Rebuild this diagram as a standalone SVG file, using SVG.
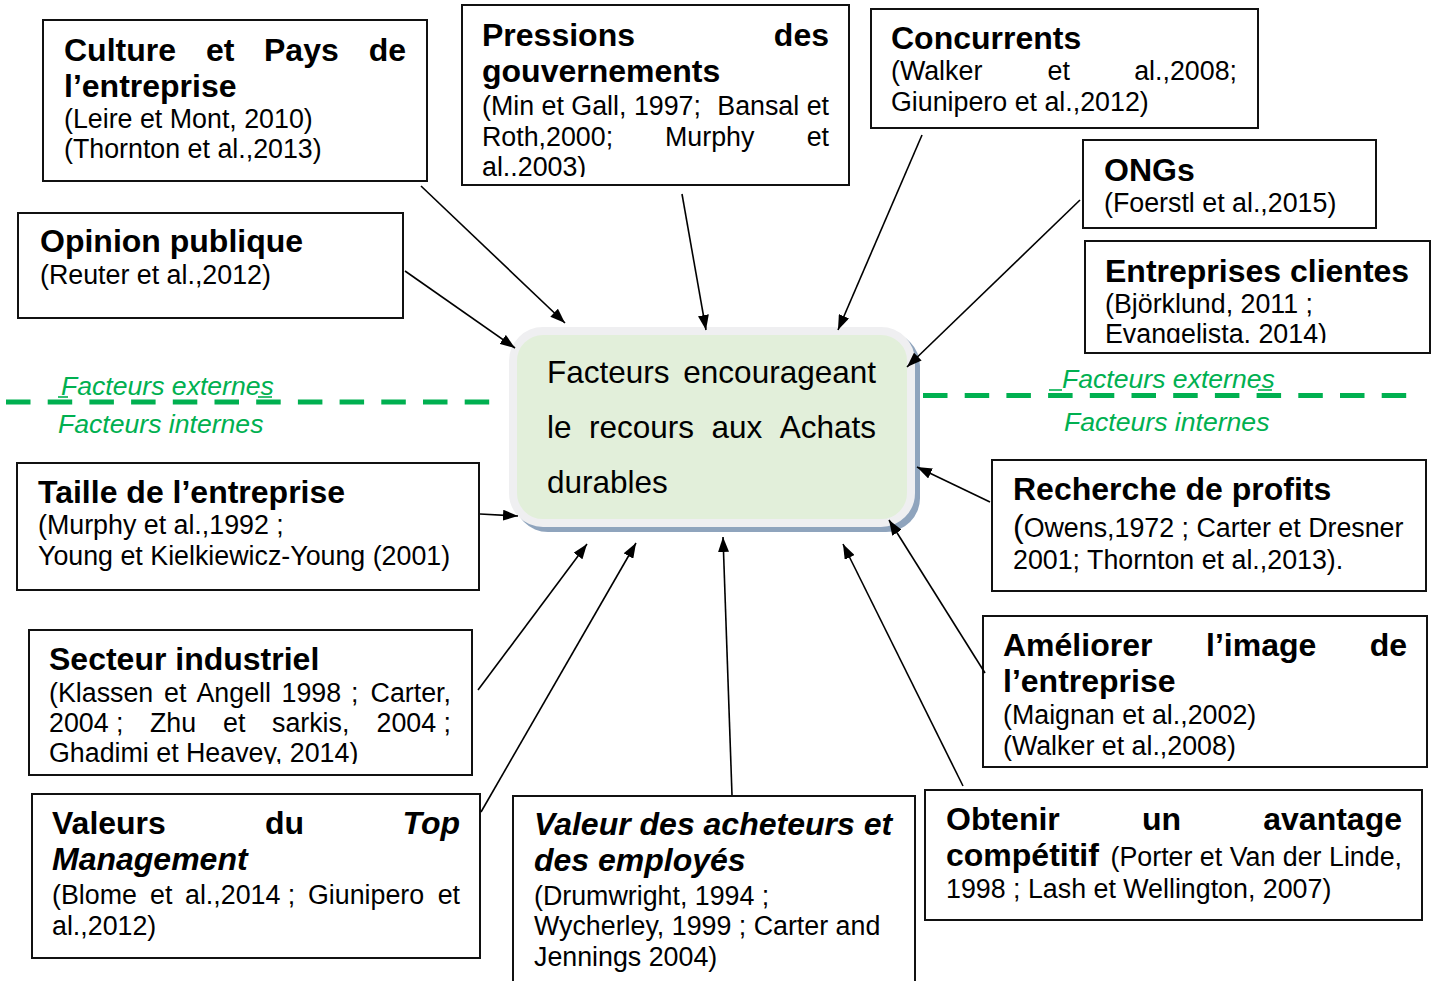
<svg xmlns="http://www.w3.org/2000/svg" width="1438" height="981" viewBox="0 0 1438 981">
  <style>
    text { font-family: "Liberation Sans", Arial, sans-serif; fill: #000; }
    .b { font-size: 32px; font-weight: bold; }
    .bi { font-size: 32px; font-weight: bold; font-style: italic; }
    .r { font-size: 26.8px; }
    .c { font-size: 31.5px; }
    .g { font-size: 26.6px; font-style: italic; fill: #00b050; }
    .box { fill: #fff; stroke: #111; stroke-width: 2; }
    .conn { stroke: #000; stroke-width: 1.6; fill: none; marker-end: url(#arrow); }
    .sep { stroke: #00b050; stroke-width: 5; stroke-dasharray: 24.5 17.2; fill: none; }
    .ul { stroke: #00b050; stroke-width: 1.6; }
  </style>
  <defs>
    <marker id="arrow" markerUnits="userSpaceOnUse" markerWidth="15" markerHeight="11" refX="15" refY="5.5" orient="auto">
      <path d="M0,0 L15,5.5 L0,11 z" fill="#000"/>
    </marker>
    <clipPath id="clip-pressions"><rect x="462" y="5" width="387" height="172"/></clipPath>
    <clipPath id="clip-clientes"><rect x="1085" y="241" width="345" height="102"/></clipPath>
    <clipPath id="clip-secteur"><rect x="29" y="630" width="443" height="134"/></clipPath>
  </defs>

  <rect width="1438" height="981" fill="#fff"/>

  <!-- internal / external separators -->
  <g id="separators">
    <line class="sep" x1="6" y1="402" x2="494" y2="402"/>
    <line class="sep" x1="923" y1="395.5" x2="1410" y2="395.5"/>
    <text class="g" x="61" y="395">Facteurs externes</text>
    <line class="ul" x1="58" y1="397" x2="68" y2="397"/>
    <line class="ul" x1="258" y1="397" x2="272" y2="397"/>
    <text class="g" x="58" y="433">Facteurs internes</text>
    <text class="g" x="1062" y="388">Facteurs externes</text>
    <line class="ul" x1="1049" y1="390" x2="1062" y2="390"/>
    <line class="ul" x1="1258" y1="390" x2="1272" y2="390"/>
    <text class="g" x="1064" y="431">Facteurs internes</text>
  </g>

  <!-- central node -->
  <g id="centre">
    <rect x="514" y="332" width="406" height="200" rx="34" fill="#8fa4bd"/>
    <rect x="513" y="331" width="398" height="192" rx="30" fill="#e2efda" stroke="#efeff1" stroke-width="8"/>
    <text class="c" y="383"><tspan x="547">Facteurs</tspan><tspan x="876" text-anchor="end">encourageant</tspan></text>
    <text class="c" y="438"><tspan x="547">le</tspan><tspan x="589">recours</tspan><tspan x="711.5">aux</tspan><tspan x="876" text-anchor="end">Achats</tspan></text>
    <text class="c" x="547" y="493">durables</text>
  </g>

  <!-- external factors -->
  <g id="culture">
    <rect class="box" x="43" y="20" width="384" height="161"/>
    <text class="b" y="61"><tspan x="64">Culture</tspan><tspan x="206">et</tspan><tspan x="264">Pays</tspan><tspan x="406" text-anchor="end">de</tspan></text>
    <text class="b" x="64" y="97">l’entreprise</text>
    <text class="r" x="64" y="128">(Leire et Mont, 2010)</text>
    <text class="r" x="64" y="158">(Thornton et al.,2013)</text>
  </g>

  <g id="opinion">
    <rect class="box" x="18" y="213" width="385" height="105"/>
    <text class="b" x="40" y="252">Opinion publique</text>
    <text class="r" x="40" y="284">(Reuter et al.,2012)</text>
  </g>

  <g id="pressions">
    <rect class="box" x="462" y="5" width="387" height="180"/>
    <g clip-path="url(#clip-pressions)">
      <text class="b" y="46"><tspan x="482">Pressions</tspan><tspan x="829" text-anchor="end">des</tspan></text>
      <text class="b" x="482" y="82">gouvernements</text>
      <text class="r" y="115"><tspan x="482">(Min et Gall, 1997;</tspan><tspan x="829" text-anchor="end">Bansal et</tspan></text>
      <text class="r" y="146"><tspan x="482">Roth,2000;</tspan><tspan x="665">Murphy</tspan><tspan x="829" text-anchor="end">et</tspan></text>
      <text class="r" x="482" y="176">al..2003)</text>
    </g>
  </g>

  <g id="concurrents">
    <rect class="box" x="871" y="9" width="387" height="119"/>
    <text class="b" x="891" y="49">Concurrents</text>
    <text class="r" y="80"><tspan x="891">(Walker</tspan><tspan x="1047.5">et</tspan><tspan x="1237" text-anchor="end">al.,2008;</tspan></text>
    <text class="r" x="891" y="111">Giunipero et al.,2012)</text>
  </g>

  <g id="ongs">
    <rect class="box" x="1083" y="140" width="293" height="88"/>
    <text class="b" x="1104" y="181">ONGs</text>
    <text class="r" x="1104" y="212">(Foerstl et al.,2015)</text>
  </g>

  <g id="clientes">
    <rect class="box" x="1085" y="241" width="345" height="112"/>
    <g clip-path="url(#clip-clientes)">
      <text class="b" x="1105" y="282">Entreprises clientes</text>
      <text class="r" x="1105" y="313">(Björklund, 2011 ;</text>
      <text class="r" x="1105" y="343">Evangelista. 2014)</text>
    </g>
  </g>

  <!-- internal factors -->
  <g id="taille">
    <rect class="box" x="17" y="463" width="462" height="127"/>
    <text class="b" x="38" y="503">Taille de l’entreprise</text>
    <text class="r" x="38" y="534">(Murphy et al.,1992 ;</text>
    <text class="r" x="38" y="565">Young et Kielkiewicz-Young (2001)</text>
  </g>

  <g id="secteur">
    <rect class="box" x="29" y="630" width="443" height="145"/>
    <g clip-path="url(#clip-secteur)">
      <text class="b" x="49" y="670">Secteur industriel</text>
      <text class="r" y="702"><tspan x="49">(Klassen</tspan><tspan x="164">et</tspan><tspan x="196.5">Angell</tspan><tspan x="281.5">1998</tspan><tspan x="351">;</tspan><tspan x="451" text-anchor="end">Carter,</tspan></text>
      <text class="r" y="732"><tspan x="49">2004 ;</tspan><tspan x="150">Zhu</tspan><tspan x="223">et</tspan><tspan x="272">sarkis,</tspan><tspan x="451" text-anchor="end">2004 ;</tspan></text>
      <text class="r" x="49" y="762">Ghadimi et Heavey, 2014)</text>
    </g>
  </g>

  <g id="top-management">
    <rect class="box" x="32" y="794" width="448" height="164"/>
    <text class="b" y="834"><tspan x="52">Valeurs</tspan><tspan x="265">du</tspan><tspan x="460" text-anchor="end" font-style="italic">Top</tspan></text>
    <text class="bi" x="52" y="870">Management</text>
    <text class="r" y="904"><tspan x="52">(Blome</tspan><tspan x="150">et</tspan><tspan x="185">al.,2014 ;</tspan><tspan x="308">Giunipero</tspan><tspan x="460" text-anchor="end">et</tspan></text>
    <text class="r" x="52" y="935">al.,2012)</text>
  </g>

  <g id="acheteurs">
    <rect class="box" x="513" y="796" width="402" height="200"/>
    <text class="bi" x="534" y="835">Valeur des acheteurs et</text>
    <text class="bi" x="534" y="871">des employés</text>
    <text class="r" x="534" y="905">(Drumwright, 1994 ;</text>
    <text class="r" x="534" y="935">Wycherley, 1999 ; Carter and</text>
    <text class="r" x="534" y="966">Jennings 2004)</text>
  </g>

  <g id="avantage">
    <rect class="box" x="925" y="790" width="497" height="130"/>
    <text class="b" y="830"><tspan x="946">Obtenir</tspan><tspan x="1142">un</tspan><tspan x="1402" text-anchor="end">avantage</tspan></text>
    <text class="r" y="866"><tspan x="946" class="b">compétitif</tspan><tspan x="1402" text-anchor="end">(Porter et Van der Linde,</tspan></text>
    <text class="r" x="946" y="898">1998 ; Lash et Wellington, 2007)</text>
  </g>

  <g id="profits">
    <rect class="box" x="992" y="460" width="434" height="131"/>
    <text class="b" x="1013" y="500">Recherche de profits</text>
    <text class="r" x="1013" y="537"><tspan font-size="32">(</tspan>Owens,1972 ; Carter et Dresner</text>
    <text class="r" x="1013" y="569">2001; Thornton et al.,2013).</text>
  </g>

  <g id="image">
    <rect class="box" x="983" y="616" width="444" height="151"/>
    <text class="b" y="656"><tspan x="1003">Améliorer</tspan><tspan x="1206">l’image</tspan><tspan x="1407" text-anchor="end">de</tspan></text>
    <text class="b" x="1003" y="692">l’entreprise</text>
    <text class="r" x="1003" y="724">(Maignan et al.,2002)</text>
    <text class="r" x="1003" y="755">(Walker et al.,2008)</text>
  </g>

  <!-- connectors: every factor points at the central node -->
  <g id="connectors">
    <path class="conn" d="M421,186 L565,323"/>
    <path class="conn" d="M405,271 L515,348"/>
    <path class="conn" d="M682,194 L706,330"/>
    <path class="conn" d="M922,135 L838,330"/>
    <path class="conn" d="M1080,200 L907,367"/>
    <path class="conn" d="M990,502 L917,467"/>
    <path class="conn" d="M985,673 L889,520"/>
    <path class="conn" d="M963,786 L843,544"/>
    <path class="conn" d="M732,795 L723,537"/>
    <path class="conn" d="M481,812 L636,543"/>
    <path class="conn" d="M478,690 L587,544"/>
    <path class="conn" d="M480,514 L518,516"/>
  </g>
</svg>
